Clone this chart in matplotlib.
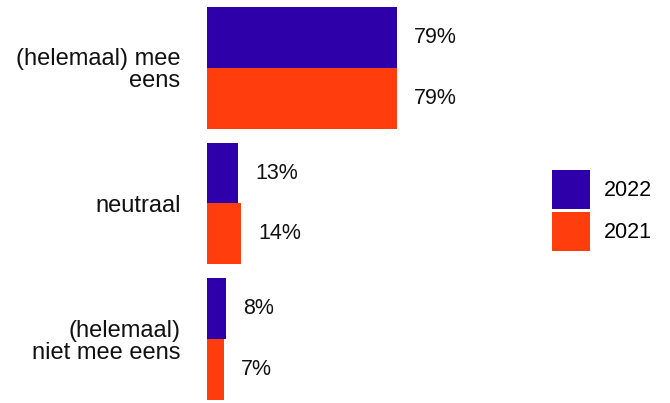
import matplotlib
matplotlib.use("Agg")
import matplotlib.pyplot as plt
import numpy as np
from matplotlib.patches import Patch

categories = ["(helemaal) mee\neens", "neutraal", "(helemaal)\nniet mee eens"]
series_names = ["2022", "2021"]
values_2022 = [79, 13, 8]
values_2021 = [79, 14, 7]
colors = ["#2E00AA", "#FF3D0D"]

plt.rcParams['font.family'] = ['Liberation Sans', 'DejaVu Sans']
FS_CAT = 17
FS_VAL = 15.5

W, H = 670, 403
fig = plt.figure(figsize=(W / 100, H / 100), dpi=100)
ax = fig.add_axes([207 / W, 3 / H, 240.5 / W, 393 / H])

pos = np.arange(len(categories))
bh = 61 / 136
for vals, off, col in [(values_2022, -bh / 2, colors[0]), (values_2021, bh / 2, colors[1])]:
    bars = ax.barh(pos + off, vals, height=bh, color=col, linewidth=0)
    for b, v in zip(bars, vals):
        ax.annotate(f"{v}%", (b.get_width(), b.get_y() + b.get_height() / 2),
                    xytext=(12.5, 0), textcoords="offset points",
                    ha="left", va="center", fontsize=FS_VAL, color="#111111")

ax.set_xlim(0, 100)
ax.set_ylim(len(categories) - 1 + bh, -bh)
ax.set_yticks(pos)
ax.set_yticklabels(categories, fontsize=FS_CAT, color="#111111", linespacing=1.0)
ax.tick_params(axis="y", length=0, pad=19)
ax.set_xticks([])
for s in ax.spines.values():
    s.set_visible(False)

handles = [Patch(facecolor=c, edgecolor="none") for c in colors]
fig.legend(handles, series_names, loc="upper left", bbox_to_anchor=(552 / W, 1 - 170 / H),
           frameon=False, fontsize=FS_VAL, handlelength=1.77, handleheight=2.41,
           labelspacing=0.14, handletextpad=0.65, borderpad=0, borderaxespad=0)

fig.savefig("out.png", dpi=100)
